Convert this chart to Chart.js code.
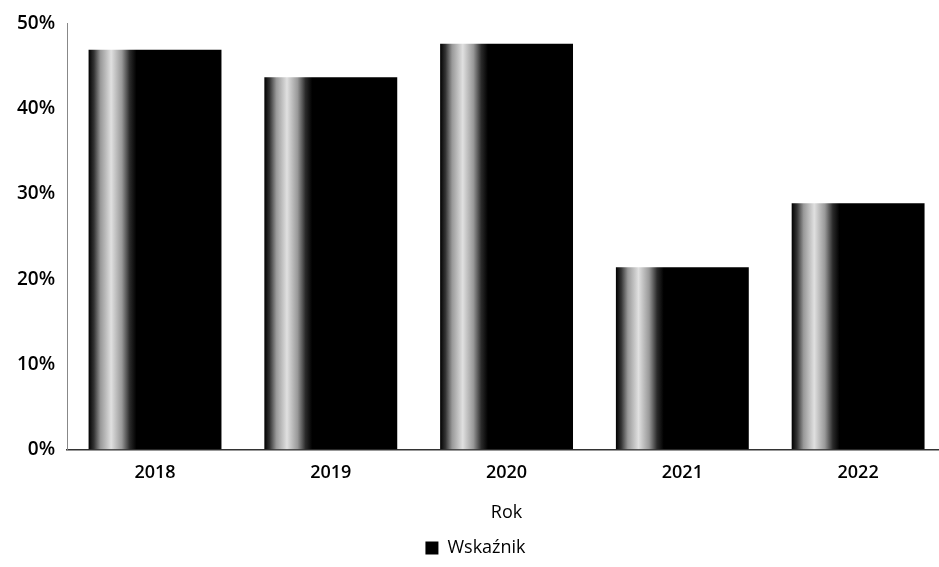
<!DOCTYPE html>
<html>
<head>
<meta charset="utf-8">
<script src="https://cdn.jsdelivr.net/npm/chart.js@4.4.0/dist/chart.umd.min.js"></script>
<style>
  html, body { margin: 0; padding: 0; background: #fff; overflow: hidden; }
  #wrap { width: 946px; height: 567px; }
</style>
</head>
<body>
<div id="wrap"><canvas id="chart"></canvas></div>
<script>
const years = ["2018", "2019", "2020", "2021", "2022"];
const values = [46.9, 43.7, 47.6, 21.4, 28.9];
const seriesName = "Wskaźnik";
const axisTitle = "Rok";

const barShare = 0.756;

// dark bar with a light streak near its left edge
const barFill = (context) => {
    const chart = context.chart;
    const x = chart.scales && chart.scales.x;
    if (context.dataIndex === undefined || !x || !x.width) {
        return "#111";
    }
    const w = x.width / years.length * barShare;
    const center = x.getPixelForValue(context.dataIndex);
    const left = center - w / 2;
    const g = chart.ctx.createLinearGradient(left, 0, left + w, 0);
    g.addColorStop(0, "#000");
    g.addColorStop(0.04, "#333");
    g.addColorStop(0.09, "#999");
    g.addColorStop(0.17, "#e0e0e0");
    g.addColorStop(0.25, "#999");
    g.addColorStop(0.31, "#2a2a2a");
    g.addColorStop(0.36, "#000");
    g.addColorStop(1, "#000");
    return g;
};

Chart.defaults.font.family = "'Open Sans', 'DejaVu Sans', sans-serif";
Chart.defaults.font.weight = "600";
Chart.defaults.color = "#000";

const ctx = document.getElementById('chart').getContext('2d');
const chart = new Chart(ctx, {
    type: 'bar',
    data: {
        labels: years,
        datasets: [{
            label: seriesName,
            data: values,
            backgroundColor: barFill,
            borderWidth: 0,
            barPercentage: barShare,
            categoryPercentage: 1
        }]
    },
    options: {
        responsive: true,
        maintainAspectRatio: false,
        animation: false,
        layout: {
            padding: { top: 8, left: 5, right: 0, bottom: 0 }
        },
        plugins: {
            legend: {
                position: 'bottom',
                labels: {
                    boxWidth: 13,
                    boxHeight: 13,
                    padding: 7,
                    font: { size: 18, weight: "normal" }
                }
            },
            tooltip: { enabled: false }
        },
        scales: {
            x: {
                grid: { display: false },
                border: { color: "#333", width: 1.5 },
                ticks: { font: { size: 18 }, padding: 4 },
                title: {
                    display: true,
                    text: axisTitle,
                    font: { size: 18, weight: "normal" },
                    padding: { top: 15, bottom: 8 }
                }
            },
            y: {
                min: 0,
                max: 50,
                grid: { drawOnChartArea: false, drawTicks: false },
                border: { color: "#888", width: 1 },
                ticks: {
                    stepSize: 10,
                    padding: 12,
                    font: { size: 19 },
                    callback: (v) => v + "%"
                }
            }
        }
    }
});
</script>
</body>
</html>
